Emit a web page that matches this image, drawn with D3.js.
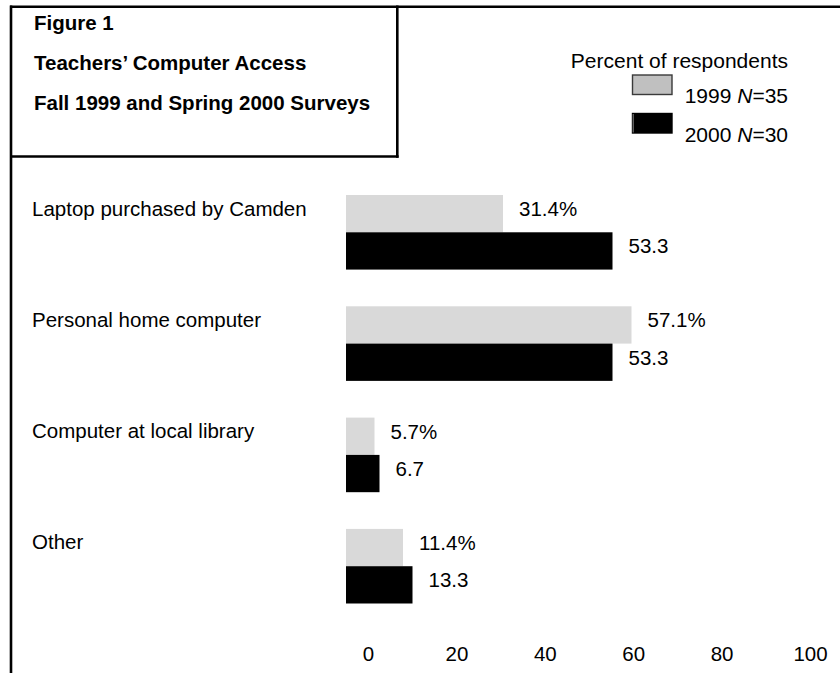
<!DOCTYPE html>
<html>
<head>
<meta charset="utf-8">
<script src="https://cdnjs.cloudflare.com/ajax/libs/d3/7.8.5/d3.min.js"></script>
<style>
  html, body { margin: 0; padding: 0; background: #fff; }
  svg { display: block; font-family: "Liberation Sans", Arial, sans-serif; }
</style>
</head>
<body>
<svg id="chart" width="840" height="673"></svg>
<script>
// Survey categories and percentages for each year
const categories = [
  "Laptop purchased by Camden",
  "Personal home computer",
  "Computer at local library",
  "Other"
];
const values1999 = [31.4, 57.1, 5.7, 11.4];
const values2000 = [53.3, 53.3, 6.7, 13.3];
const labels1999 = ["31.4%", "57.1%", "5.7%", "11.4%"];
const labels2000 = ["53.3", "53.3", "6.7", "13.3"];
const tickValues = [0, 20, 40, 60, 80, 100];
const seriesNames = ["1999", "2000"];
const seriesN = [35, 30];
const titleLines = ["Figure 1", "Teachers\u2019 Computer Access", "Fall 1999 and Spring 2000 Surveys"];

const svg = d3.select("#chart");
const barColors = { "1999": "#d9d9d9", "2000": "#000000" };
const keyColors = { "1999": "#c0c0c0", "2000": "#000000" };

// Frame: title box plus the long left rule and the top rule
const frame = svg.append("g").attr("stroke", "#000").attr("stroke-width", 2.6).attr("fill", "none");
frame.append("line").attr("x1", 10).attr("x2", 840).attr("y1", 6.7).attr("y2", 6.7);
frame.append("line").attr("x1", 11).attr("x2", 11).attr("y1", 5.5).attr("y2", 673);
frame.append("line").attr("x1", 397.3).attr("x2", 397.3).attr("y1", 5.5).attr("y2", 157.8);
frame.append("line").attr("x1", 10).attr("x2", 398.6).attr("y1", 156.5).attr("y2", 156.5);

// Title block
svg.append("g").selectAll("text").data(titleLines).join("text")
  .attr("x", 34)
  .attr("y", (d, i) => 29.5 + i * 40)
  .attr("font-weight", "bold")
  .attr("font-size", 20.5)
  .attr("fill", "#000")
  .text(d => d);

// Legend
const legend = svg.append("g");
legend.append("text")
  .attr("x", 788).attr("y", 68)
  .attr("text-anchor", "end")
  .attr("font-size", 21)
  .text("Percent of respondents");
const legendRows = legend.selectAll("g.row").data(seriesNames).join("g")
  .attr("class", "row")
  .attr("transform", (d, i) => `translate(0, ${i * 38.5})`);
legendRows.append("rect")
  .attr("x", 632.5).attr("y", 75).attr("width", 39.5).attr("height", 19.5)
  .attr("fill", d => keyColors[d])
  .attr("stroke", d => d === "1999" ? "#3a3a3a" : "#000")
  .attr("stroke-width", 1.4);
legendRows.filter(d => d === "2000").append("line")
  .attr("x1", 633.2).attr("x2", 633.2).attr("y1", 75.5).attr("y2", 94)
  .attr("stroke", "#888").attr("stroke-width", 1);
const lt = legendRows.append("text")
  .attr("x", 788).attr("y", 103)
  .attr("text-anchor", "end")
  .attr("font-size", 21);
lt.append("tspan").text(d => d + " ");
lt.append("tspan").attr("font-style", "italic").text("N");
lt.append("tspan").text((d, i) => "=" + seriesN[i]);

// Scales
const x = d3.scaleLinear().domain([0, 100]).range([346, 846]);
const y = d3.scaleBand().domain(categories).range([195, 603.5]).paddingInner(0.33).paddingOuter(0);
const ySub = d3.scaleBand().domain(seriesNames).range([0, y.bandwidth()]);

const groups = svg.append("g").selectAll("g.cat").data(categories).join("g")
  .attr("class", "cat")
  .attr("transform", d => `translate(0, ${y(d)})`);

groups.append("text")
  .attr("x", 32)
  .attr("y", ySub("1999") + 20.5)
  .attr("font-size", 20.5)
  .text(d => d);

const series = [
  { key: "1999", values: values1999, labels: labels1999 },
  { key: "2000", values: values2000, labels: labels2000 }
];

series.forEach(s => {
  groups.append("rect")
    .attr("x", x(0))
    .attr("y", ySub(s.key))
    .attr("width", (d, i) => x(s.values[i]) - x(0))
    .attr("height", ySub.bandwidth())
    .attr("fill", barColors[s.key]);
  groups.append("text")
    .attr("x", (d, i) => x(s.values[i]) + 16)
    .attr("y", ySub(s.key) + 21)
    .attr("font-size", 20.5)
    .text((d, i) => s.labels[i]);
});

// Percentage scale labels along the bottom
const xAxis = d3.scaleLinear().domain([0, 100]).range([368, 810]);
const axis = svg.append("g")
  .attr("transform", "translate(0, 661)")
  .call(d3.axisBottom(xAxis).tickValues(tickValues).tickSize(0).tickPadding(0));
axis.select(".domain").remove();
axis.selectAll("text")
  .attr("font-size", 20.5)
  .attr("font-family", "Liberation Sans, Arial, sans-serif")
  .attr("fill", "#000")
  .attr("dy", "0");
</script>
</body>
</html>
